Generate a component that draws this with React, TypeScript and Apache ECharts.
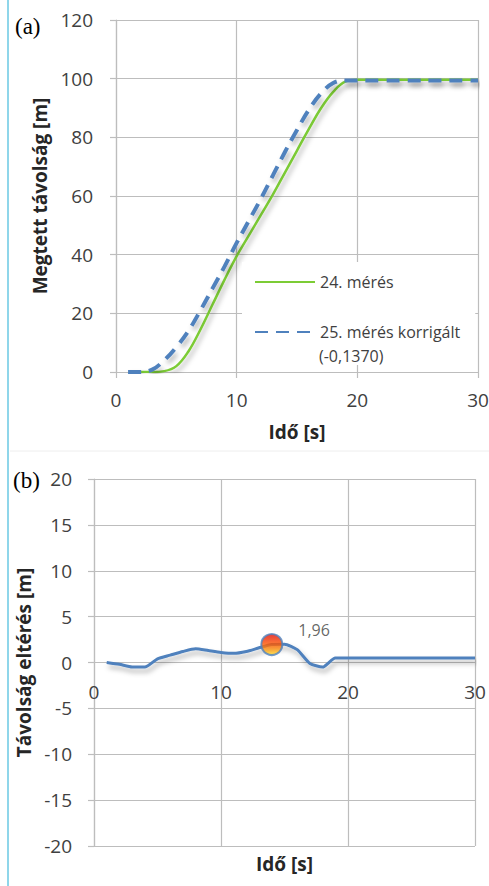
import React, { useEffect, useRef } from 'react';
import * as echarts from 'echarts';

// Panel (a): distance travelled
const time24 = [2, 3, 4, 5, 6, 7, 8, 9, 10, 11, 12, 13, 14, 15, 16, 17, 18, 19, 20, 21, 22, 23, 24, 25, 26, 27, 28, 29, 30];
const dist24 = [0, 0, 0.3, 2, 7, 14.5, 23, 31.5, 39.5, 46.5, 53.5, 60.5, 68, 75.5, 83, 90, 95.5, 99, 99.6, 99.6, 99.6, 99.6, 99.6, 99.6, 99.6, 99.6, 99.6, 99.6, 99.6];
const time25 = [1, 2, 3, 4, 5, 6, 7, 8, 9, 10, 11, 12, 13, 14, 15, 16, 17, 18, 19, 20, 21, 22, 23, 24, 25, 26, 27, 28, 29, 30];
const dist25 = [0, 0, 0.8, 4, 8.5, 14, 21, 28.5, 36, 44, 51.5, 59, 67, 75, 82.5, 89.5, 95, 98.5, 99.4, 99.4, 99.4, 99.4, 99.4, 99.4, 99.4, 99.4, 99.4, 99.4, 99.4, 99.4];
const seriesNames = ['24. mérés', '25. mérés korrigált'];
const legendExtra = '(-0,1370)';

// Panel (b): distance difference
const timeDiff = [1, 2, 3, 4, 5, 6, 7, 8, 9, 10, 11, 12, 13, 14, 15, 16, 17, 18, 19, 20, 21, 22, 23, 24, 25, 26, 27, 28, 29, 30];
const diffValues = [0, -0.2, -0.5, -0.5, 0.4, 0.8, 1.2, 1.5, 1.3, 1.1, 1.0, 1.2, 1.6, 1.96, 2.0, 1.4, -0.1, -0.5, 0.5, 0.5, 0.5, 0.5, 0.5, 0.5, 0.5, 0.5, 0.5, 0.5, 0.5, 0.5];
const peakTime = 14;
const peakValue = 1.96;
const peakLabel = '1,96';

const FONT = "'Open Sans', sans-serif";
const GRID = '#bdbdbd';
const LABEL = '#404040';
const TITLE = '#262626';
const GREEN = '#7ccc35';
const BLUE = '#4f81bd';

const zip = (xs: number[], ys: number[]) => xs.map((x, i) => [x, ys[i]]);

export default function App() {
  const ref = useRef<HTMLDivElement>(null);
  useEffect(() => {
    document.body.style.margin = '0';
    const chart = echarts.init(ref.current!, null, { renderer: 'svg' });
    const axisCommon = (extra: any) => ({
      type: 'value',
      axisLine: { show: true, lineStyle: { color: GRID, width: 1.2 } },
      axisTick: { show: true, length: 6, lineStyle: { color: GRID, width: 1.2 } },
      splitLine: { show: true, lineStyle: { color: GRID, width: 1.2 } },
      axisLabel: { fontSize: 19, color: LABEL, fontFamily: FONT },
      nameLocation: 'middle',
      nameTextStyle: { fontSize: 19, fontWeight: 'bold', color: TITLE, fontFamily: FONT },
      ...extra,
    });
    const shadow = { shadowColor: 'rgba(0,0,0,0.3)', shadowBlur: 5, shadowOffsetY: 4, shadowOffsetX: 2 };
    const bottomGridTop = 479;
    const bottomGridHeight = 886 - 479 - 40;
    const option: any = {
      animation: false,
      backgroundColor: '#ffffff',
      grid: [
        { left: 116, right: 11, top: 20, bottom: 514, outerBoundsMode: 'none', containLabel: false },
        { left: 94, right: 14, top: bottomGridTop, bottom: 40, outerBoundsMode: 'none', containLabel: false },
      ],
      xAxis: [
        axisCommon({ gridIndex: 0, min: 0, max: 30, interval: 10, name: 'Idő [s]', nameGap: 50,
          axisLabel: { fontSize: 19, color: LABEL, fontFamily: FONT, margin: 18 } }),
        axisCommon({ gridIndex: 1, min: 0, max: 30, interval: 10, name: 'Idő [s]', nameGap: 192,
          position: 'bottom', offset: -bottomGridHeight / 2,
          axisLine: { show: true, onZero: false, lineStyle: { color: GRID, width: 1.2 } },
          axisTick: { show: false },
          axisLabel: { fontSize: 19, color: LABEL, fontFamily: FONT, margin: 20 } }),
      ],
      yAxis: [
        axisCommon({ gridIndex: 0, min: 0, max: 120, interval: 20, name: 'Megtett távolság [m]', nameGap: 65,
          axisLabel: { fontSize: 19, color: LABEL, fontFamily: FONT, margin: 23 } }),
        axisCommon({ gridIndex: 1, min: -20, max: 20, interval: 5, name: 'Távolság eltérés [m]', nameGap: 53,
          axisLabel: { fontSize: 19, color: LABEL, fontFamily: FONT, margin: 22 } }),
      ],
      legend: {
        data: seriesNames,
        orient: 'vertical',
        left: 242,
        top: 262,
        padding: [10, 15, 23, 12],
        itemWidth: 60,
        itemHeight: 20,
        itemGap: 30,
        backgroundColor: '#ffffff',
        itemStyle: { color: 'rgba(0,0,0,0)', borderColor: 'rgba(0,0,0,0)', borderWidth: 0, opacity: 0 },
        textStyle: { fontSize: 16, color: LABEL, fontFamily: FONT, lineHeight: 20 },
      },
      series: [
        {
          name: seriesNames[0], type: 'line', xAxisIndex: 0, yAxisIndex: 0,
          data: zip(time24, dist24), smooth: 0.4, symbol: 'none',
          lineStyle: { color: GREEN, width: 2.5, ...shadow },
          itemStyle: { color: GREEN },
        },
        {
          name: seriesNames[1], type: 'line', xAxisIndex: 0, yAxisIndex: 0,
          data: zip(time25, dist25), smooth: 0.4, symbol: 'none',
          lineStyle: { color: BLUE, width: 4, type: [13, 8], ...shadow },
          itemStyle: { color: BLUE },
        },
        {
          name: 'eltérés', type: 'line', xAxisIndex: 1, yAxisIndex: 1,
          data: zip(timeDiff, diffValues), smooth: 0.2, symbol: 'none',
          lineStyle: { color: BLUE, width: 3, ...shadow },
          itemStyle: { color: BLUE },
        },
        {
          name: 'csúcs', type: 'scatter', xAxisIndex: 1, yAxisIndex: 1,
          data: [[peakTime, peakValue]], symbolSize: 21, z: 5,
          itemStyle: {
            color: new echarts.graphic.LinearGradient(0, 0, 0, 1, [
              { offset: 0, color: '#e00c0c' },
              { offset: 0.5, color: '#ff5a00' },
              { offset: 1, color: '#ffdc28' },
            ]),
            borderColor: BLUE, borderWidth: 2,
          },
          label: {
            show: true, position: 'right', offset: [10, -15], formatter: peakLabel,
            fontSize: 16, color: LABEL, fontFamily: FONT,
          },
        },
      ],
      graphic: [
        { type: 'line', shape: { x1: 8, y1: 0, x2: 8, y2: 886 }, style: { stroke: '#8fd6ea', lineWidth: 2 }, z: 100 },
        { type: 'line', shape: { x1: 10, y1: 451, x2: 489, y2: 451 }, style: { stroke: '#eeeeee', lineWidth: 1 }, z: 100 },
        { type: 'text', x: 15, y: 26, style: { text: '(a)', font: "23px 'Liberation Serif', serif", fill: '#000', verticalAlign: 'middle' }, z: 100 },
        { type: 'text', x: 13, y: 480, style: { text: '(b)', font: "23px 'Liberation Serif', serif", fill: '#000', verticalAlign: 'middle' }, z: 100 },
        { type: 'text', x: 319, y: 356, style: { text: legendExtra, font: `16px ${FONT}`, fill: LABEL, verticalAlign: 'middle' }, z: 100 },
      ],
    };
    chart.setOption(option);
    return () => chart.dispose();
  }, []);
  return <div ref={ref} style={{ position: 'fixed', left: 0, top: 0, width: 489, height: 886 }} />;
}
